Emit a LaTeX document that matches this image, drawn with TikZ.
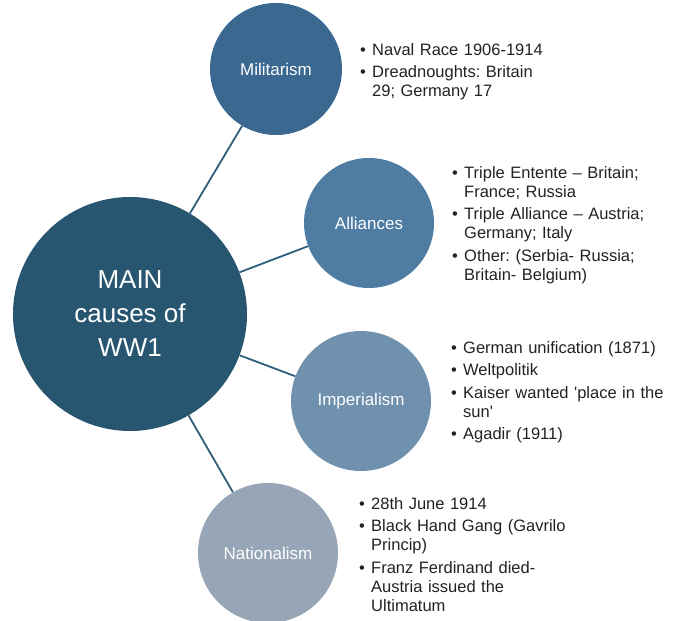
\documentclass[tikz,border=0pt]{standalone}
\usepackage{fontspec}
\setmainfont{Liberation Sans}[Ligatures=TeXOff]

\definecolor{mainblue}{HTML}{285670}
\definecolor{milblue}{HTML}{3A6890}
\definecolor{allblue}{HTML}{4E7CA3}
\definecolor{impblue}{HTML}{7091AE}
\definecolor{natblue}{HTML}{97A6B7}
\definecolor{linkblue}{HTML}{2F5F7C}
\definecolor{listgrey}{HTML}{222222}

% one bullet point, later lines hang under the text
\newcommand{\causeitem}[1]{\par\noindent\hangindent=12pt\hangafter=1%
  \makebox[12pt][l]{\textbullet}{\def\\{\newline}#1}\par\vspace{3.5pt}}

\begin{document}
\begin{tikzpicture}[x=1pt,y=-1pt,
    cause/.style={circle,inner sep=0pt,text=white,font=\fontsize{17}{20}\selectfont},
    link/.style={draw=linkblue,line width=1.8pt},
    facts/.style={anchor=north west,inner sep=0pt,text width=260pt,align=left,
      text=listgrey,font=\fontsize{16.5}{19}\selectfont\frenchspacing}]
    \useasboundingbox (0,0) rectangle (673,621);

    % centre circle
    \node (main) at (130,314) [circle,fill=mainblue,minimum size=234pt,inner sep=0pt,
      text=white,align=center,font=\fontsize{26}{34}\selectfont] {MAIN\\causes of\\WW1};

    % the four causes
    \node (mil) at (276,69) [cause,fill=milblue,minimum size=132pt] {Militarism};
    \node (all) at (369,223) [cause,fill=allblue,minimum size=130pt] {Alliances};
    \node (imp) at (361,401) [cause,fill=impblue,minimum size=140pt] {Imperialism};
    \node (nat) at (268,553) [cause,fill=natblue,minimum size=140pt] {Nationalism};

    \draw[link] (main) -- (mil);
    \draw[link] (main) -- (all);
    \draw[link] (main) -- (imp);
    \draw[link] (main) -- (nat);

    % notes beside each cause
    \node (milFacts) at (360,36) [facts] {%
      \causeitem{Naval Race 1906-1914}
      \causeitem{Dreadnoughts: Britain\\29; Germany 17}};
    \node (allFacts) at (452,159) [facts] {%
      \causeitem{Triple Entente – Britain;\\France; Russia}
      \causeitem{Triple Alliance – Austria;\\Germany; Italy}
      \causeitem{Other: (Serbia- Russia;\\Britain- Belgium)}};
    \node (impFacts) at (451,334) [facts] {%
      \causeitem{German unification (1871)}
      \causeitem{Weltpolitik}
      \causeitem{Kaiser wanted 'place in the\\sun'}
      \causeitem{Agadir (1911)}};
    \node (natFacts) at (359,490) [facts] {%
      \causeitem{28th June 1914}
      \causeitem{Black Hand Gang (Gavrilo\\Princip)}
      \causeitem{Franz Ferdinand died-\\Austria issued the\\Ultimatum}};
\end{tikzpicture}
\end{document}
